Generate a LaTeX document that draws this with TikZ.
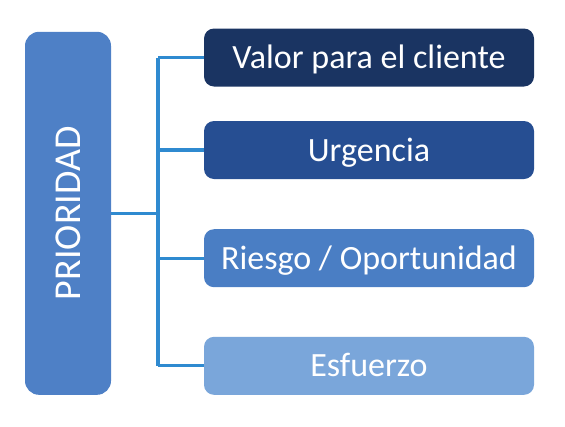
\documentclass[tikz,border=0pt]{standalone}
\usepackage{fontspec}
\setmainfont{Carlito}
\begin{document}
\begin{tikzpicture}[x=1pt,y=-1pt,
	bigbox/.style={draw=none, rounded corners=14pt, minimum width=86pt, minimum height=363pt, inner sep=0, text=white},
	itembox/.style={draw=none, rounded corners=10pt, minimum width=330pt, minimum height=58pt, inner sep=0, text=white, text height=22pt, text depth=0pt, font=\fontsize{34pt}{34pt}\selectfont},
	link/.style={line width=3.2pt, custcol_line}]
	\definecolor{custcol_line}{RGB}{47, 138, 208}
	\definecolor{custcol_main}{RGB}{78, 128, 198}
	\definecolor{custcol_a}{RGB}{26, 52, 98}
	\definecolor{custcol_b}{RGB}{38, 78, 146}
	\definecolor{custcol_c}{RGB}{74, 126, 196}
	\definecolor{custcol_d}{RGB}{122, 166, 218}
	\useasboundingbox (0.0,0.0) rectangle (565.0,426.0);
	\node [bigbox, fill=custcol_main] (prioridad) at (68.0,213.3) {};
	\node [inner sep=0, text=white, rotate=90, font=\fontsize{38pt}{38pt}\selectfont] (prioridadtxt) at (prioridad.center) {PRIORIDAD};
	\node [itembox, fill=custcol_a] (valor) at (369.0,57.5) {Valor para el cliente};
	\node [itembox, fill=custcol_b] (urgencia) at (369.0,150.0) {Urgencia};
	\node [itembox, fill=custcol_c] (riesgo) at (369.0,258.2) {Riesgo / Oportunidad};
	\node [itembox, fill=custcol_d] (esfuerzo) at (369.0,365.8) {Esfuerzo};
	\coordinate (bus) at (158.0,213.3);
	\draw [link] (prioridad.east) -- (bus);
	\draw [link] (bus |- valor.west) -- (bus |- esfuerzo.west);
	\foreach \n in {valor,urgencia,riesgo,esfuerzo}
		\draw [link] (bus |- \n.west) -- (\n.west);
\end{tikzpicture}
\end{document}
